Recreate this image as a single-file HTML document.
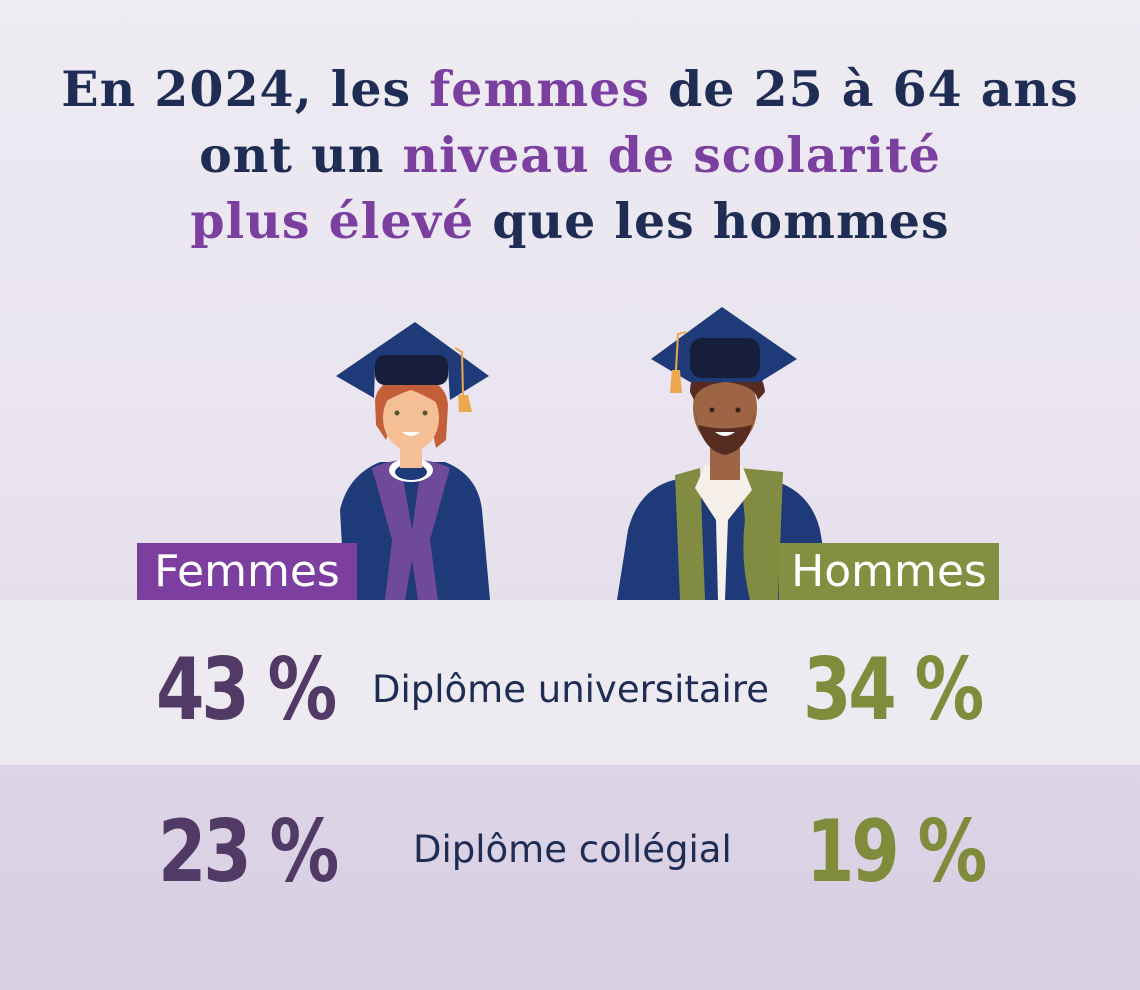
<!DOCTYPE html>
<html><head><meta charset="utf-8"><style>
html,body{margin:0;padding:0}
body{width:1140px;height:990px;position:relative;overflow:hidden;font-family:"Liberation Sans",sans-serif;
background:linear-gradient(#eeebf3 0px,#e9e4ef 450px,#e5dfec 600px)}
.t{position:absolute;left:0;width:1140px;text-align:center;font-family:"DejaVu Serif","Liberation Serif",serif;font-weight:bold;font-size:49px;color:#1f2d55;letter-spacing:1px}
.p{color:#7b3fa0}
.b1{position:absolute;left:0;top:600px;width:1140px;height:165px;background:#eeeaf2}
.b2{position:absolute;left:0;top:765px;width:1140px;height:225px;background:linear-gradient(#ddd5e6,#d8cfe3)}
.lab{position:absolute;top:543px;height:57px;width:220px;color:#fff;font-size:44px;line-height:57px;text-align:center;font-family:"DejaVu Sans","Liberation Sans",sans-serif}
.n{position:absolute;font-family:"DejaVu Sans","Liberation Sans",sans-serif;font-weight:bold;font-size:86px;line-height:100px;letter-spacing:-4px;transform:scaleX(0.81);transform-origin:0 0}
.d{position:absolute;font-family:"DejaVu Sans","Liberation Sans",sans-serif;font-size:37px;color:#1f2d55;line-height:50px}
</style></head><body>
<div class="t" style="top:60px">En 2024, les <span class="p">femmes</span> de 25 à 64 ans</div>
<div class="t" style="top:126px">ont un <span class="p">niveau de scolarité</span></div>
<div class="t" style="top:192px"><span class="p">plus élevé</span> que les hommes</div>
<svg style="position:absolute;left:0;top:0" width="1140" height="600">
<path d="M345 600 L340 510 Q348 475 380 462 L445 462 Q478 475 482 510 L490 600Z" fill="#1e3a78"/>
<path d="M372 468 Q385 462 400 460 L412 530 L422 460 Q438 462 450 468 L430 540 L438 600 L418 600 L412 560 L405 600 L385 600 L392 540Z" fill="#6e4a98"/>
<ellipse cx="411" cy="470" rx="22" ry="12" fill="#fff"/>
<ellipse cx="411" cy="472" rx="16" ry="8" fill="#1e3a78"/>
<rect x="400" y="440" width="22" height="28" fill="#f5bf95"/>
<path d="M375 400 Q378 378 411 378 Q446 378 448 405 L446 440 L436 448 L430 420 L392 420 L386 440 L376 425Z" fill="#c25f38"/>
<ellipse cx="411" cy="418" rx="28" ry="33" fill="#f5bf95"/>
<path d="M380 405 Q395 380 411 382 Q440 385 446 408 Q425 395 411 390 Q395 395 380 405Z" fill="#c25f38"/>
<circle cx="397" cy="413" r="2.5" fill="#553"/><circle cx="425" cy="413" r="2.5" fill="#553"/>
<path d="M402 432 Q411 440 420 432Z" fill="#fff"/>
<path d="M415 322 L489 376 L450 400 L448 368 L375 368 L374 398 L336 376Z" fill="#1e3a78"/>
<rect x="375" y="355" width="73" height="30" rx="10" fill="#161e3c"/>
<path d="M455 348 L462 352 L463 395" stroke="#eca850" stroke-width="2" fill="none"/>
<path d="M458 395 L468 395 L472 412 L459 412Z" fill="#eca850"/>
<path d="M617 600 L628 530 Q640 483 685 478 L765 478 Q810 488 820 530 L832 600Z" fill="#1e3a78"/>
<path d="M675 475 L700 468 L705 600 L680 600Z" fill="#818c42"/>
<path d="M740 468 L783 472 L778 600 L750 600 Q740 560 745 520Z" fill="#818c42"/>
<path d="M705 465 L742 465 L752 490 L728 520 L725 600 L718 600 L716 520 L695 488Z" fill="#f7efea"/>
<rect x="710" y="440" width="30" height="40" fill="#9d6445"/>
<ellipse cx="725" cy="408" rx="32" ry="40" fill="#9d6445"/>
<path d="M695 410 Q700 450 725 455 Q750 450 755 410 L752 425 Q725 432 698 425Z" fill="#562c21"/>
<path d="M690 392 Q690 362 725 362 Q762 362 765 392 L758 400 Q755 385 725 382 Q698 385 694 400Z" fill="#562c21"/>
<circle cx="712" cy="410" r="2.5" fill="#3a2218"/><circle cx="738" cy="410" r="2.5" fill="#3a2218"/>
<path d="M715 432 Q725 440 735 432Z" fill="#fff"/>
<path d="M722 307 L797 359 L760 382 L690 382 L651 359Z" fill="#1e3a78"/>
<rect x="690" y="338" width="70" height="40" rx="12" fill="#161e3c"/>
<path d="M686 332 L678 334 L676 370" stroke="#eca850" stroke-width="2" fill="none"/>
<path d="M672 370 L680 370 L682 393 L670 393Z" fill="#eca850"/>
</svg>
<div class="b1"></div><div class="b2"></div>
<div class="lab" style="left:137px;background:#7c3fa0">Femmes</div>
<div class="lab" style="left:779px;background:#838f41">Hommes</div>
<div class="n" style="left:156px;top:640px;color:#523a66">43 %</div>
<div class="d" style="left:372px;top:665px">Diplôme universitaire</div>
<div class="n" style="left:803px;top:640px;color:#7f8c3c">34 %</div>
<div class="n" style="left:158px;top:802px;color:#523a66">23 %</div>
<div class="d" style="left:413px;top:825px">Diplôme collégial</div>
<div class="n" style="left:806px;top:802px;color:#7f8c3c">19 %</div>
</body></html>
